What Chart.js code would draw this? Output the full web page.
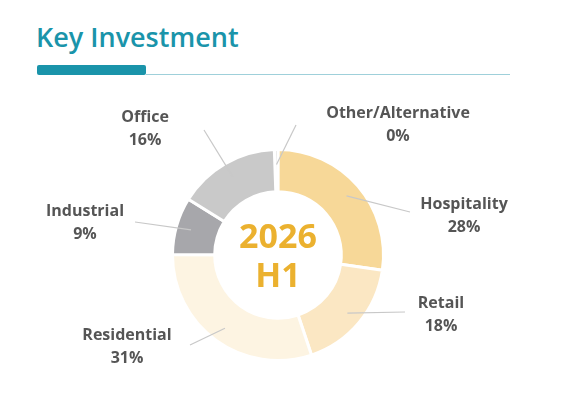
<!DOCTYPE html>
<html><head><meta charset="utf-8">
<script src="https://cdn.jsdelivr.net/npm/chart.js@4"></script>
<style>
body{margin:0;background:#fff;width:583px;height:409px;overflow:hidden;font-family:"Open Sans",sans-serif}
#t{position:absolute;left:36px;top:18px;font-size:27px;font-weight:600;color:#1a94aa;font-family:"Open Sans";}
#b1{position:absolute;left:37px;top:65px;width:109px;height:10px;background:#1a94aa;border-radius:2px}
#b2{position:absolute;left:146px;top:74px;width:364px;height:1px;background:#9fd0da}
canvas{position:absolute;left:0;top:0}
</style></head><body>
<div id="t">Key Investment</div><div id="b1"></div><div id="b2"></div>
<canvas id="c" width="583" height="409"></canvas>
<script>
const categories=["Other/Alternative","Hospitality","Retail","Residential","Industrial","Office"];
const values=[0.6,28,18,31,9,16];
const pctLabels=["0%","28%","18%","31%","9%","16%"];
const colors=["#d8d8d8","#f7d898","#fbe7c3","#fdf4e2","#a7a7ab","#c9c9c9"];
const labelPos=[[398,113],[464,204],[441,303],[127,335],[85,211],[145,117]];
const lineEnd=[[296,125],[410,212],[405,312],[190,345],[135,222],[204,130]];
const plug={id:'lbl',afterDraw(ch){const c=ch.ctx;const m=ch.getDatasetMeta(0);
c.save();
m.data.forEach((a,i)=>{const ang=(a.startAngle+a.endAngle)/2;const r=a.outerRadius-15;
const x=a.x+Math.cos(ang)*r,y=a.y+Math.sin(ang)*r;
c.strokeStyle="#c8c8c8";c.lineWidth=1.2;c.beginPath();c.moveTo(x,y);c.lineTo(lineEnd[i][0],lineEnd[i][1]);c.stroke();
c.fillStyle="#555";c.font="bold 16px 'Open Sans'";c.textAlign="center";c.textBaseline="middle";
c.fillText(categories[i],labelPos[i][0],labelPos[i][1]);c.fillText(pctLabels[i],labelPos[i][0],labelPos[i][1]+23);});
const a=m.data[0];c.fillStyle="#ebb12f";c.font="bold 34px 'Open Sans'";c.fillText("2026",a.x,a.y-17);c.fillText("H1",a.x,a.y+22);
c.restore();}};
new Chart(document.getElementById('c'),{type:'doughnut',
data:{labels:categories,datasets:[{data:values,backgroundColor:colors,borderColor:"#fff",borderWidth:3}]},
options:{responsive:false,animation:false,cutout:'60%',rotation:-2,
layout:{padding:{left:171,right:198,top:148,bottom:47}},
plugins:{legend:{display:false},tooltip:{enabled:false}}},plugins:[plug]});
</script></body></html>
